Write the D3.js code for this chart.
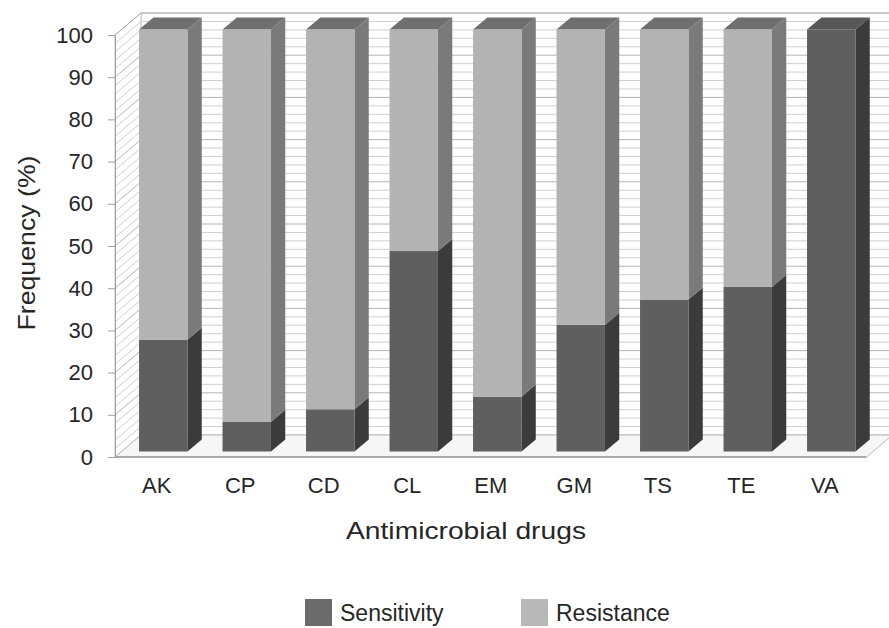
<!DOCTYPE html>
<html>
<head>
<meta charset="utf-8">
<script src="https://cdn.jsdelivr.net/npm/d3@7"></script>
<style>
    body { margin: 0; background: #ffffff; }
    text { font-family: "Liberation Sans", Arial, sans-serif; fill: #262626; }
</style>
</head>
<body>
<script>
// Stacked 3D column chart: antimicrobial sensitivity vs resistance

// =======================
// Data
// =======================
var drugs = ["AK", "CP", "CD", "CL", "EM", "GM", "TS", "TE", "VA"];
var sensitivity = [26.5, 7, 10, 47.5, 13, 30, 36, 39, 100];
var resistance = [73.5, 93, 90, 52.5, 87, 70, 64, 61, 0];
var yTicks = [0, 10, 20, 30, 40, 50, 60, 70, 80, 90, 100];
var seriesNames = ["Sensitivity", "Resistance"];

window.onload = function(){

    var w = 889,
        h = 628;

    // depth of the 3D box and where the bars sit inside it
    var depth = {x: 26, y: -22};
    var barFront = 0.25,
        barBack = 0.8;

    var svg = d3.select("body")
        .append("svg")
        .attr("width", w)
        .attr("height", h);

    // =======================
    // Scales
    // =======================
    var x = d3.scaleBand()
        .domain(drugs)
        .range([115, 866.5])
        .paddingInner(0.42)
        .paddingOuter(0.21);

    var y = d3.scaleLinear()
        .domain([0, 100])
        .range([457, 35]);

    var x0 = 115,
        x1 = 866.5;

    // =======================
    // Walls and floor
    // =======================
    var walls = svg.append("g").attr("class", "walls");

    // back wall
    walls.append("rect")
        .attr("x", x0 + depth.x)
        .attr("y", y(100) + depth.y)
        .attr("width", x1 - x0)
        .attr("height", y(0) - y(100))
        .style("fill", "#ffffff")
        .style("stroke", "#c4c4c4");

    // side wall
    walls.append("path")
        .attr("d", "M" + x0 + "," + y(0) +
            "L" + x0 + "," + y(100) +
            "L" + (x0 + depth.x) + "," + (y(100) + depth.y) +
            "L" + (x0 + depth.x) + "," + (y(0) + depth.y) + "Z")
        .style("fill", "#ffffff")
        .style("stroke", "#c4c4c4");

    // floor
    walls.append("path")
        .attr("d", "M" + x0 + "," + y(0) +
            "L" + x1 + "," + y(0) +
            "L" + (x1 + depth.x) + "," + (y(0) + depth.y) +
            "L" + (x0 + depth.x) + "," + (y(0) + depth.y) + "Z")
        .style("fill", "#f6f6f6")
        .style("stroke", "#b8b8b8");

    // gridlines every 2 units, on back wall and side wall
    var gridVals = d3.range(2, 101, 2);

    walls.selectAll(".gridBack")
        .data(gridVals)
        .enter()
        .append("line")
        .attr("class", "gridBack")
        .attr("x1", x0 + depth.x)
        .attr("x2", x1 + depth.x)
        .attr("y1", function(d){ return y(d) + depth.y; })
        .attr("y2", function(d){ return y(d) + depth.y; })
        .style("stroke", function(d){ return d % 10 === 0 ? "#b4b4b4" : "#d0d0d0"; })
        .style("stroke-width", 1);

    walls.selectAll(".gridSide")
        .data(gridVals)
        .enter()
        .append("line")
        .attr("class", "gridSide")
        .attr("x1", x0)
        .attr("x2", x0 + depth.x)
        .attr("y1", function(d){ return y(d); })
        .attr("y2", function(d){ return y(d) + depth.y; })
        .style("stroke", function(d){ return d % 10 === 0 ? "#b4b4b4" : "#d0d0d0"; })
        .style("stroke-width", 1);

    // front floor line
    walls.append("line")
        .attr("x1", x0)
        .attr("x2", x1)
        .attr("y1", y(0))
        .attr("y2", y(0))
        .style("stroke", "#9a9a9a")
        .style("stroke-width", 1.5);

    // =======================
    // Y axis
    // =======================
    var yAxis = d3.axisLeft(y)
        .tickValues(yTicks)
        .tickSize(7)
        .tickPadding(15);

    var axis = svg.append("g")
        .attr("class", "axis")
        .attr("transform", "translate(" + x0 + ",0)")
        .call(yAxis);

    axis.select(".domain").style("stroke", "#a0a0a0");
    axis.selectAll(".tick line").style("stroke", "#a0a0a0");
    axis.selectAll(".tick text")
        .style("font-size", "22px")
        .style("font-family", "Liberation Sans, Arial, sans-serif")
        .style("fill", "#262626");

    // =======================
    // Bars
    // =======================
    var fx = depth.x * barFront,
        fy = depth.y * barFront,
        bx = depth.x * (barBack - barFront),
        by = depth.y * (barBack - barFront);

    var colors = {
        Sensitivity: {front: "#5f5f5f", side: "#3b3b3b", top: "#575757"},
        Resistance: {front: "#b3b3b3", side: "#7a7a7a", top: "#6f6f6f"}
    };

    var segments = [];
    drugs.forEach(function(d, i){
        var s = sensitivity[i],
            r = resistance[i];
        segments.push({drug: d, series: "Sensitivity", y0: 0, y1: s, top: r === 0});
        if (r > 0) {
            segments.push({drug: d, series: "Resistance", y0: s, y1: s + r, top: true});
        }
    });

    var bars = svg.selectAll(".bar")
        .data(segments)
        .enter()
        .append("g")
        .attr("class", "bar");

    // side face
    bars.append("path")
        .attr("d", function(d){
            var xr = x(d.drug) + x.bandwidth() + fx,
                yt = y(d.y1) + fy,
                yb = y(d.y0) + fy;
            return "M" + xr + "," + yb + "L" + xr + "," + yt +
                "L" + (xr + bx) + "," + (yt + by) +
                "L" + (xr + bx) + "," + (yb + by) + "Z";
        })
        .style("fill", function(d){ return colors[d.series].side; });

    // top face
    bars.filter(function(d){ return d.top; })
        .append("path")
        .attr("d", function(d){
            var xl = x(d.drug) + fx,
                xr = xl + x.bandwidth(),
                yt = y(d.y1) + fy;
            return "M" + xl + "," + yt + "L" + xr + "," + yt +
                "L" + (xr + bx) + "," + (yt + by) +
                "L" + (xl + bx) + "," + (yt + by) + "Z";
        })
        .style("fill", function(d){ return colors[d.series].top; });

    // front face
    bars.append("rect")
        .attr("x", function(d){ return x(d.drug) + fx; })
        .attr("y", function(d){ return y(d.y1) + fy; })
        .attr("width", x.bandwidth())
        .attr("height", function(d){ return y(d.y0) - y(d.y1); })
        .style("fill", function(d){ return colors[d.series].front; });

    // =======================
    // Category labels
    // =======================
    svg.selectAll(".catLabel")
        .data(drugs)
        .enter()
        .append("text")
        .attr("class", "catLabel")
        .attr("text-anchor", "middle")
        .attr("x", function(d){ return x(d) + x.bandwidth() / 2; })
        .attr("y", 493)
        .style("font-size", "22px")
        .text(function(d){ return d; });

    // =======================
    // Axis titles
    // =======================
    svg.append("text")
        .attr("text-anchor", "middle")
        .attr("transform", "translate(35,243) rotate(-90)")
        .attr("textLength", 175)
        .attr("lengthAdjust", "spacingAndGlyphs")
        .style("font-size", "24px")
        .text("Frequency (%)");

    svg.append("text")
        .attr("text-anchor", "middle")
        .attr("x", 466)
        .attr("y", 539)
        .attr("textLength", 240)
        .attr("lengthAdjust", "spacingAndGlyphs")
        .style("font-size", "24px")
        .text("Antimicrobial drugs");

    // =======================
    // Legend
    // =======================
    var legendX = [305, 521];

    var legend = svg.selectAll(".legend")
        .data(seriesNames)
        .enter()
        .append("g")
        .attr("class", "legend")
        .attr("transform", function(d, i){
            return "translate(" + legendX[i] + ",599)";
        });

    legend.append("rect")
        .attr("width", 27)
        .attr("height", 27)
        .style("fill", function(d){ return d === "Sensitivity" ? "#6b6b6b" : "#b8b8b8"; });

    legend.append("text")
        .attr("x", 35)
        .attr("y", 22)
        .style("font-size", "23px")
        .text(function(d){ return d; });
};
</script>
</body>
</html>
